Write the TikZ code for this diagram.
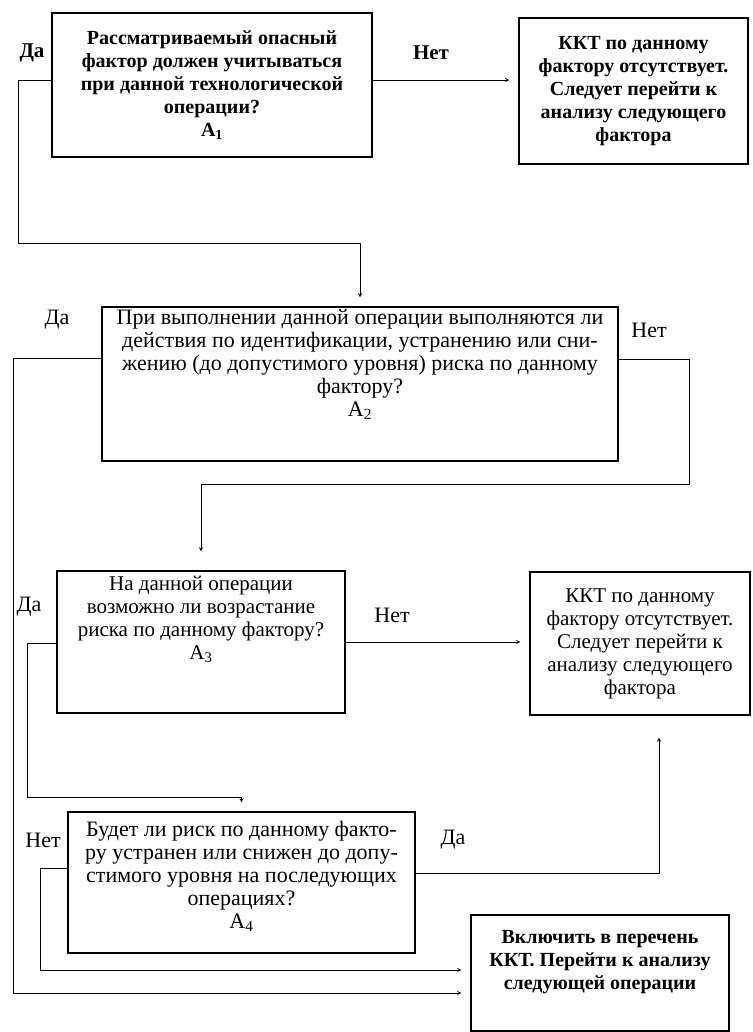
\documentclass[tikz,border=0pt]{standalone}
\usepackage{fontspec}
\setmainfont{Liberation Serif}
\usetikzlibrary{arrows}

\begin{document}
\begin{tikzpicture}
[x=1pt,y=-1pt]
\tikzset{
	block/.style = {rectangle, draw, line width=1.2pt, align=center, inner sep=2pt, font=\fontsize{21}{23}\selectfont},
	wideblock/.style = {block, font=\fontsize{22}{23}\selectfont},
	boldblock/.style = {block, font=\fontsize{20}{23}\selectfont\bfseries},
	answer/.style = {inner sep=0pt, font=\fontsize{22}{24}\selectfont},
	boldanswer/.style = {answer, font=\fontsize{21}{24}\selectfont\bfseries},
	arr/.style = {-stealth, line width=0.9pt, shorten >=9pt}
}
\useasboundingbox (0,0) rectangle (752,1032);

\node(a1) [boldblock, minimum width=320pt, minimum height=144pt] at (212,85)
	{Рассматриваемый опасный\\фактор должен учитываться\\при данной технологической\\операции?\\А\textsubscript{1}};
\node(k1) [boldblock, minimum width=229pt, minimum height=146pt] at (633.5,91)
	{ККТ по данному\\фактору отсутствует.\\Следует перейти к\\анализу следующего\\фактора};
\node(a2) [wideblock, minimum width=516pt, minimum height=152pt, text depth=43pt] at (360,384)
	{При выполнении данной операции выполняются ли\\действия по идентификации, устранению или сни-\\жению (до допустимого уровня) риска по данному\\фактору?\\А\textsubscript{2}};
\node(a3) [block, minimum width=288pt, minimum height=142pt, text depth=49pt] at (201,642)
	{На данной операции\\возможно ли возрастание\\риска по данному фактору?\\А\textsubscript{3}};
\node(k2) [block, minimum width=220pt, minimum height=143pt] at (640,643.5)
	{ККТ по данному\\фактору отсутствует.\\Следует перейти к\\анализу следующего\\фактора};
\node(a4) [wideblock, minimum width=347pt, minimum height=141pt, text depth=15pt] at (241.5,882.5)
	{Будет ли риск по данному факто-\\ру устранен или снижен до допу-\\стимого уровня на последующих\\операциях?\\А\textsubscript{4}};
\node(k3) [boldblock, minimum width=258pt, minimum height=116pt, text depth=27pt] at (600,973)
	{Включить в перечень\\ККТ. Перейти к анализу\\следующей операции};

\node(da1) [boldanswer] at (32,53) {Да};
\node(net1) [boldanswer] at (431,53) {Нет};
\node(da2) [answer] at (57,320) {Да};
\node(net2) [answer] at (649,330) {Нет};
\node(da3) [answer] at (29,607) {Да};
\node(net3) [answer] at (392,615) {Нет};
\node(net4) [answer] at (43,840) {Нет};
\node(da4) [answer] at (453,840) {Да};

\draw[arr] ([yshift=5pt]a1.west) -| (18,243) -| (a2.north);
\draw[arr] ([yshift=5pt]a1.east) -- ([yshift=5pt]a1.east -| k1.west);
\draw[arr] ([yshift=26pt]a2.west) -| (13,993) -- (k3.west |- 13,993);
\draw[arr, shorten >=19pt] ([yshift=25pt]a2.east) -| (689,484) -| (a3.north);
\draw[arr] ([yshift=-1pt]a3.west) -| (27,797) -| (a4.north);
\draw[arr] (a3.east) -- (a3.east -| k2.west);
\draw[arr, shorten >=22pt] ([yshift=9pt]a4.east) -| ([xshift=19pt]k2.south);
\draw[arr] ([yshift=14pt]a4.west) -| (40,970) -- (k3.west |- 40,970);

\end{tikzpicture}
\end{document}
